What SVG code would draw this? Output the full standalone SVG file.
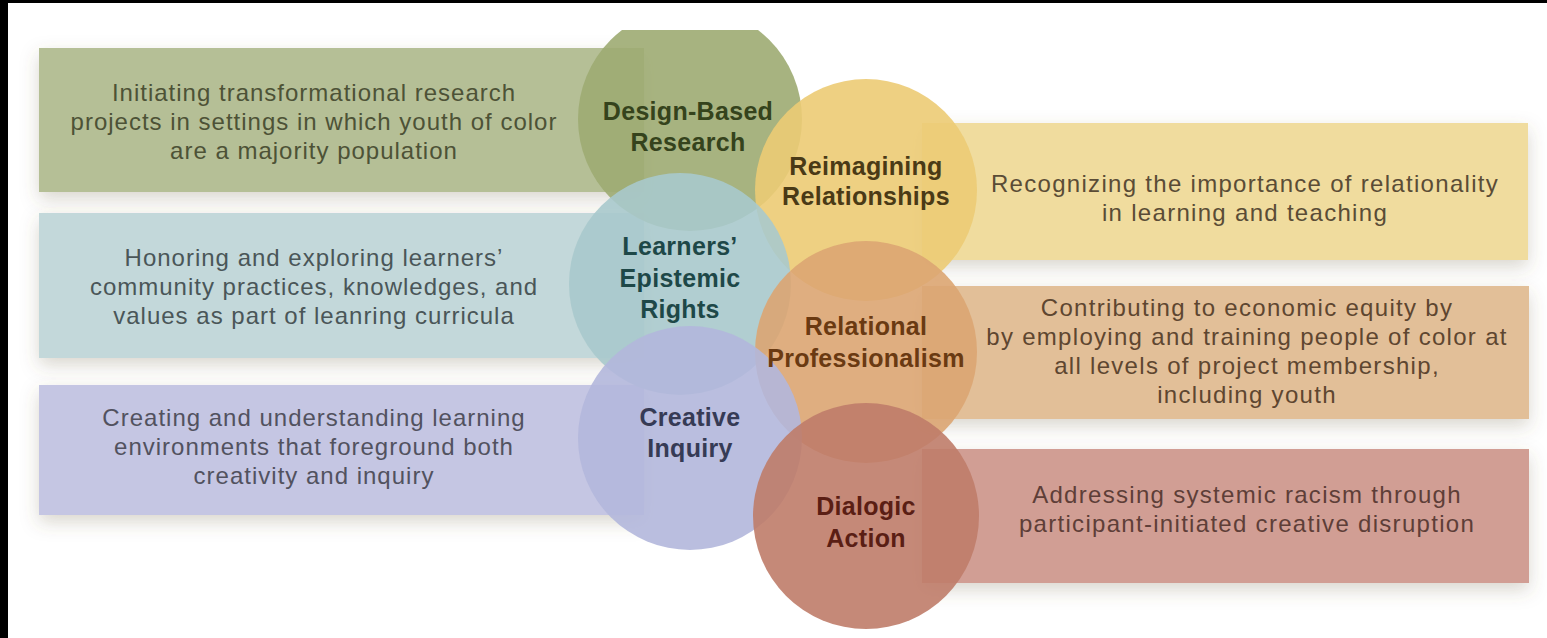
<svg xmlns="http://www.w3.org/2000/svg" width="1547" height="638" viewBox="0 0 1547 638">
<defs>
<filter id="sh" x="-10%" y="-30%" width="120%" height="170%">
<feDropShadow dx="0" dy="7" stdDeviation="9" flood-color="#6b5a40" flood-opacity="0.25"/>
</filter>
<clipPath id="topclip"><rect x="0" y="30" width="1547" height="608"/></clipPath>
<style>
.body{font-family:"Liberation Sans",Arial,sans-serif;font-size:24px;text-anchor:middle;letter-spacing:1px}
.bodyr{font-family:"Liberation Sans",Arial,sans-serif;font-size:24px;text-anchor:middle;letter-spacing:1.3px}
.lab{font-family:"Liberation Sans",Arial,sans-serif;font-size:25px;font-weight:bold;text-anchor:middle;letter-spacing:0.3px}
.circ{opacity:0.9}
</style>
</defs>
<rect width="1547" height="638" fill="#ffffff"/>
<rect x="0" y="0" width="1547" height="3" fill="#000"/>
<rect x="0" y="0" width="8" height="638" fill="#000"/>

<g id="boxes">
<rect id="box-dbr" x="39" y="48" width="605" height="144" fill="#b5bf96" filter="url(#sh)"/>
<rect id="box-ler" x="39" y="213" width="605" height="145" fill="#c3d8da" filter="url(#sh)"/>
<rect id="box-ci" x="39" y="385" width="605" height="130" fill="#c5c6e3" filter="url(#sh)"/>
<rect id="box-rr" x="922" y="123" width="606" height="137" fill="#f0dc9e" filter="url(#sh)"/>
<rect id="box-rp" x="922" y="286" width="607" height="133" fill="#e2bf98" filter="url(#sh)"/>
<rect id="box-da" x="922" y="449" width="607" height="134" fill="#d19e94" filter="url(#sh)"/>
</g>

<g id="circles">
<circle id="c-dbr" class="circ" cx="690" cy="119" r="112" fill="#9dab72" clip-path="url(#topclip)"/>
<circle id="c-rr" class="circ" cx="866" cy="190" r="111" fill="#eccb74"/>
<circle id="c-ler" class="circ" cx="680" cy="284" r="111" fill="#a8c9cc"/>
<circle id="c-rp" class="circ" cx="866" cy="352" r="111" fill="#dca572"/>
<circle id="c-ci" class="circ" cx="690" cy="438" r="112" fill="#b3b7dc"/>
<circle id="c-da" class="circ" cx="866" cy="516" r="113" fill="#bf7c69"/>
</g>

<g id="node-dbr">
<text class="body" fill="#4d5236"><tspan x="314" y="101">Initiating transformational research</tspan><tspan x="314" y="130">projects in settings in which youth of color</tspan><tspan x="314" y="159">are a majority population</tspan></text>
<text class="lab" fill="#35431c"><tspan x="688" y="120">Design-Based</tspan><tspan x="688" y="151">Research</tspan></text>
</g>
<g id="node-ler">
<text class="body" fill="#4a5658"><tspan x="314" y="266">Honoring and exploring learners’</tspan><tspan x="314" y="295">community practices, knowledges, and</tspan><tspan x="314" y="324">values as part of leanring curricula</tspan></text>
<text class="lab" fill="#1e4848"><tspan x="680" y="255">Learners’</tspan><tspan x="680" y="287">Epistemic</tspan><tspan x="680" y="318">Rights</tspan></text>
</g>
<g id="node-ci">
<text class="body" fill="#52525f"><tspan x="314" y="426">Creating and understanding learning</tspan><tspan x="314" y="455">environments that foreground both</tspan><tspan x="314" y="484">creativity and inquiry</tspan></text>
<text class="lab" fill="#363b55"><tspan x="690" y="426">Creative</tspan><tspan x="690" y="457">Inquiry</tspan></text>
</g>
<g id="node-rr">
<text class="bodyr" fill="#5a4c36"><tspan x="1245" y="192">Recognizing the importance of relationality</tspan><tspan x="1245" y="221">in learning and teaching</tspan></text>
<text class="lab" fill="#4a3a16"><tspan x="866" y="175">Reimagining</tspan><tspan x="866" y="205">Relationships</tspan></text>
</g>
<g id="node-rp">
<text class="bodyr" fill="#5e4630"><tspan x="1247" y="316">Contributing to economic equity by</tspan><tspan x="1247" y="345">by employing and training people of color at</tspan><tspan x="1247" y="374">all levels of project membership,</tspan><tspan x="1247" y="403">including youth</tspan></text>
<text class="lab" fill="#6a3a12"><tspan x="866" y="335">Relational</tspan><tspan x="866" y="367">Professionalism</tspan></text>
</g>
<g id="node-da">
<text class="bodyr" fill="#5e3e38"><tspan x="1247" y="503">Addressing systemic racism through</tspan><tspan x="1247" y="532">participant-initiated creative disruption</tspan></text>
<text class="lab" fill="#5a1e14"><tspan x="866" y="515">Dialogic</tspan><tspan x="866" y="547">Action</tspan></text>
</g>
<g id="connectors"/>
</svg>
